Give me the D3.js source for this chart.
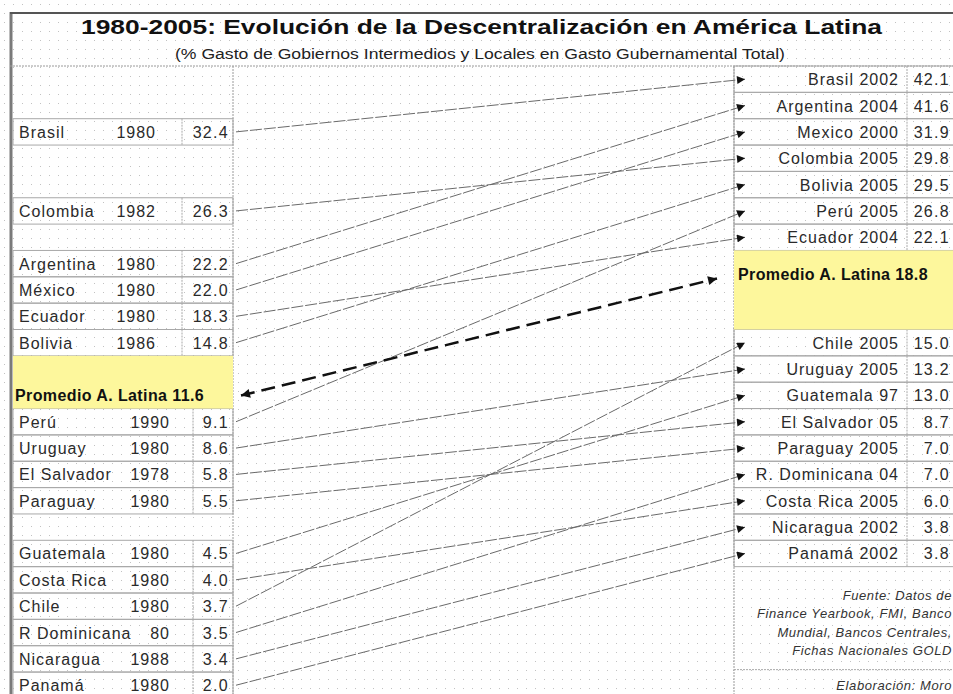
<!DOCTYPE html>
<html>
<head>
<meta charset="utf-8">
<script src="https://cdn.jsdelivr.net/npm/d3@7"></script>
<style>
  body { margin: 0; background: #fff; }
  svg { display: block; font-family: "Liberation Sans", Arial, sans-serif; }
</style>
</head>
<body>
<svg id="chart"></svg>
<script>
// --- data ---
const title = '1980-2005: Evolución de la Descentralización en América Latina';
const subtitle = '(% Gasto de Gobiernos Intermedios y Locales en Gasto Gubernamental Total)';
const avgLabel = 'Promedio A. Latina';
const avgStart = 11.6;
const avgEnd = 18.8;

const leftNames = ['Brasil', 'Colombia', 'Argentina', 'México', 'Ecuador', 'Bolivia', 'Perú', 'Uruguay',
  'El Salvador', 'Paraguay', 'Guatemala', 'Costa Rica', 'Chile', 'R Dominicana', 'Nicaragua', 'Panamá'];
const leftYears = ['1980', '1982', '1980', '1980', '1980', '1986', '1990', '1980',
  '1978', '1980', '1980', '1980', '1980', '80', '1988', '1980'];
const leftValues = [32.4, 26.3, 22.2, 22.0, 18.3, 14.8, 9.1, 8.6, 5.8, 5.5, 4.5, 4.0, 3.7, 3.5, 3.4, 2.0];

const rightNames = ['Brasil', 'Argentina', 'Mexico', 'Colombia', 'Bolivia', 'Perú', 'Ecuador', 'Chile',
  'Uruguay', 'Guatemala', 'El Salvador', 'Paraguay', 'R. Dominicana', 'Costa Rica', 'Nicaragua', 'Panamá'];
const rightYears = ['2002', '2004', '2000', '2005', '2005', '2005', '2004', '2005',
  '2005', '97', '05', '2005', '04', '2005', '2002', '2002'];
const rightValues = [42.1, 41.6, 31.9, 29.8, 29.5, 26.8, 22.1, 15.0, 13.2, 13.0, 8.7, 7.0, 7.0, 6.0, 3.8, 3.8];

// spreadsheet rows, top to bottom ('' = empty row, 'AVG' = average block)
const leftRows = ['', '', 'Brasil', '', '', 'Colombia', '', 'Argentina', 'México', 'Ecuador', 'Bolivia',
  'AVG', 'AVG', 'Perú', 'Uruguay', 'El Salvador', 'Paraguay', '', 'Guatemala', 'Costa Rica', 'Chile',
  'R Dominicana', 'Nicaragua', 'Panamá'];
const rightRows = ['Brasil', 'Argentina', 'Mexico', 'Colombia', 'Bolivia', 'Perú', 'Ecuador',
  'AVG', 'AVG', 'AVG', 'Chile', 'Uruguay', 'Guatemala', 'El Salvador', 'Paraguay', 'R. Dominicana',
  'Costa Rica', 'Nicaragua', 'Panamá'];

const sourceLines = ['Fuente: Datos de', 'Finance Yearbook, FMI, Banco', 'Mundial, Bancos Centrales,',
  'Fichas Nacionales GOLD'];
const creditLine = 'Elaboración: Moro';

// --- layout ---
const W = 953, H = 694;
const ROW_H = 26.35;
const TOP = 66;
const fmt = d3.format('.1f');
const key = (s) => s.replace(/\./g, '').normalize('NFD').replace(/[\u0300-\u036f]/g, '');

const svg = d3.select('#chart').attr('width', W).attr('height', H);
const defs = svg.append('defs');

defs.append('pattern')
  .attr('id', 'dots')
  .attr('width', 9).attr('height', 9)
  .attr('patternUnits', 'userSpaceOnUse')
  .append('rect')
  .attr('x', 4).attr('y', 4).attr('width', 1).attr('height', 1)
  .attr('fill', '#c2c2c2');

defs.append('marker')
  .attr('id', 'arrow')
  .attr('viewBox', '0 0 10 10')
  .attr('refX', 10).attr('refY', 5)
  .attr('markerUnits', 'userSpaceOnUse')
  .attr('markerWidth', 10).attr('markerHeight', 8)
  .attr('orient', 'auto')
  .append('path').attr('d', 'M0,0L10,5L0,10Z').attr('fill', '#111');

defs.append('marker')
  .attr('id', 'arrowBig')
  .attr('viewBox', '0 0 10 10')
  .attr('refX', 10).attr('refY', 5)
  .attr('markerUnits', 'userSpaceOnUse')
  .attr('markerWidth', 12).attr('markerHeight', 9)
  .attr('orient', 'auto-start-reverse')
  .append('path').attr('d', 'M0,0L10,5L0,10Z').attr('fill', '#111');

// background grid of dots (sheet gridlines)
svg.append('rect').attr('width', W).attr('height', H).attr('fill', '#fff');
svg.append('rect').attr('width', W).attr('height', H).attr('fill', 'url(#dots)');

const yLeft = d3.scaleBand()
  .domain(d3.range(leftRows.length))
  .range([TOP, TOP + leftRows.length * ROW_H]);
const yRight = d3.scaleBand()
  .domain(d3.range(rightRows.length))
  .range([TOP, TOP + rightRows.length * ROW_H]);

const L = { x0: 13, sepTop: 182, sepBottom: 193, x1: 233, name: 19, value: 229 };
const R = { x0: 734, sep: 907, x1: 953, label: 899, value: 950 };

// frame
svg.append('line').attr('x1', 11).attr('x2', 11).attr('y1', 12).attr('y2', H)
  .attr('stroke', '#7a7a7a').attr('stroke-width', 3);
svg.append('line').attr('x1', 10).attr('x2', W).attr('y1', 13).attr('y2', 13)
  .attr('stroke', '#555').attr('stroke-width', 2);
svg.append('line').attr('x1', 10).attr('x2', W).attr('y1', TOP).attr('y2', TOP)
  .attr('stroke', '#9a9a9a').attr('stroke-dasharray', '2,1');
svg.append('line').attr('x1', L.x1).attr('x2', L.x1).attr('y1', TOP).attr('y2', H)
  .attr('stroke', '#9a9a9a').attr('stroke-dasharray', '2,1');
svg.append('line').attr('x1', R.x0).attr('x2', R.x0).attr('y1', TOP).attr('y2', H)
  .attr('stroke', '#9a9a9a').attr('stroke-dasharray', '2,1');

// title
svg.append('text')
  .attr('x', 81).attr('y', 34)
  .attr('textLength', 801).attr('lengthAdjust', 'spacingAndGlyphs')
  .attr('font-size', 20).attr('font-weight', 'bold').attr('fill', '#111')
  .text(title);
svg.append('text')
  .attr('x', 175).attr('y', 59)
  .attr('textLength', 610).attr('lengthAdjust', 'spacingAndGlyphs')
  .attr('font-size', 14).attr('fill', '#222')
  .text(subtitle);

// ---- left table ----
const leftData = leftNames.map((name, i) => ({
  name, year: leftYears[i], value: leftValues[i], row: leftRows.indexOf(name),
}));
const leftAvgRows = leftRows.map((r, i) => r === 'AVG' ? i : -1).filter((i) => i >= 0);
const leftAvgFirst = d3.min(leftAvgRows), leftAvgLast = d3.max(leftAvgRows);

const gLeft = svg.append('g');
const leftCells = gLeft.selectAll('g.cell').data(leftData).enter().append('g').attr('class', 'cell');
leftCells.append('rect')
  .attr('x', L.x0).attr('width', L.x1 - L.x0)
  .attr('y', (d) => yLeft(d.row)).attr('height', yLeft.bandwidth())
  .attr('fill', 'none').attr('stroke', '#a8a8a8');
leftCells.append('line')
  .attr('x1', (d) => d.row < leftAvgFirst ? L.sepTop : L.sepBottom)
  .attr('x2', (d) => d.row < leftAvgFirst ? L.sepTop : L.sepBottom)
  .attr('y1', (d) => yLeft(d.row)).attr('y2', (d) => yLeft(d.row) + yLeft.bandwidth())
  .attr('stroke', '#a8a8a8').attr('stroke-dasharray', '2,1');
const baseL = (d) => yLeft(d.row) + yLeft.bandwidth() / 2 + 6;
leftCells.append('text')
  .attr('x', L.name).attr('y', baseL)
  .attr('font-size', 16).attr('letter-spacing', 1).attr('fill', '#2a2a2a')
  .text((d) => d.name);
leftCells.append('text')
  .attr('x', (d) => d.row < leftAvgFirst ? L.sepTop - 26 : L.sepBottom - 23).attr('y', baseL)
  .attr('text-anchor', 'end')
  .attr('font-size', 16).attr('letter-spacing', 1).attr('fill', '#2a2a2a')
  .text((d) => d.year);
leftCells.append('text')
  .attr('x', L.value).attr('y', baseL)
  .attr('text-anchor', 'end')
  .attr('font-size', 16).attr('letter-spacing', 1.3).attr('fill', '#2a2a2a')
  .text((d) => fmt(d.value));

// left average block
const leftAvgTop = yLeft(leftAvgFirst);
const leftAvgBottom = yLeft(leftAvgLast) + yLeft.bandwidth();
gLeft.append('rect')
  .attr('x', L.x0).attr('width', L.x1 - L.x0)
  .attr('y', leftAvgTop).attr('height', leftAvgBottom - leftAvgTop)
  .attr('fill', '#fdf79c');
const leftAvgY = leftAvgBottom - 14;
gLeft.append('text')
  .attr('x', 15).attr('y', leftAvgY + 6)
  .attr('font-size', 16).attr('font-weight', 'bold').attr('letter-spacing', 0.4).attr('fill', '#111')
  .text(avgLabel + ' ' + fmt(avgStart));

// ---- right table ----
const rightData = rightNames.map((name, i) => ({
  name, year: rightYears[i], value: rightValues[i], row: rightRows.indexOf(name),
}));
const rightAvgRows = rightRows.map((r, i) => r === 'AVG' ? i : -1).filter((i) => i >= 0);
const rightAvgFirst = d3.min(rightAvgRows), rightAvgLast = d3.max(rightAvgRows);

const gRight = svg.append('g');
const rightCells = gRight.selectAll('g.cell').data(rightData).enter().append('g').attr('class', 'cell');
rightCells.append('rect')
  .attr('x', R.x0).attr('width', R.x1 - R.x0 + 2)
  .attr('y', (d) => yRight(d.row)).attr('height', yRight.bandwidth())
  .attr('fill', 'none').attr('stroke', '#a8a8a8');
rightCells.append('line')
  .attr('x1', R.sep).attr('x2', R.sep)
  .attr('y1', (d) => yRight(d.row)).attr('y2', (d) => yRight(d.row) + yRight.bandwidth())
  .attr('stroke', '#a8a8a8').attr('stroke-dasharray', '2,1');
const baseR = (d) => yRight(d.row) + yRight.bandwidth() / 2 + 6;
rightCells.append('text')
  .attr('x', R.label).attr('y', baseR)
  .attr('text-anchor', 'end')
  .attr('font-size', 16).attr('letter-spacing', 1).attr('fill', '#2a2a2a')
  .text((d) => d.name + ' ' + d.year);
rightCells.append('text')
  .attr('x', R.value).attr('y', baseR)
  .attr('text-anchor', 'end')
  .attr('font-size', 16).attr('letter-spacing', 1.3).attr('fill', '#2a2a2a')
  .text((d) => fmt(d.value));

// right average block
const rightAvgTop = yRight(rightAvgFirst);
const rightAvgBottom = yRight(rightAvgLast) + yRight.bandwidth();
gRight.append('rect')
  .attr('x', R.x0).attr('width', R.x1 - R.x0)
  .attr('y', rightAvgTop).attr('height', rightAvgBottom - rightAvgTop)
  .attr('fill', '#fdf79c');
const rightAvgY = rightAvgTop + 24;
gRight.append('text')
  .attr('x', 738).attr('y', rightAvgY + 6)
  .attr('font-size', 16).attr('font-weight', 'bold').attr('letter-spacing', 0.4).attr('fill', '#111')
  .text(avgLabel + ' ' + fmt(avgEnd));

// footer (source)
const footTop = yRight(rightRows.length - 1) + yRight.bandwidth();
gRight.selectAll('text.src').data(sourceLines).enter().append('text')
  .attr('class', 'src')
  .attr('x', 952).attr('y', (d, i) => footTop + 33 + i * 18.5)
  .attr('text-anchor', 'end')
  .attr('font-size', 13).attr('font-style', 'italic').attr('letter-spacing', 0.6).attr('fill', '#333')
  .text((d) => d);
gRight.append('line')
  .attr('x1', R.x0).attr('x2', W).attr('y1', footTop + 103).attr('y2', footTop + 103)
  .attr('stroke', '#a8a8a8').attr('stroke-dasharray', '2,1');
gRight.append('text')
  .attr('x', 952).attr('y', footTop + 123)
  .attr('text-anchor', 'end')
  .attr('font-size', 13).attr('font-style', 'italic').attr('letter-spacing', 0.6).attr('fill', '#333')
  .text(creditLine);

// ---- connecting lines ----
const rightByKey = new Map(rightData.map((d) => [key(d.name), d]));
const links = leftData.map((d) => ({ from: d, to: rightByKey.get(key(d.name)) }));

const xLink = d3.scaleLinear().domain([0, 1]).range([L.x1 + 3, R.x0 + 11]);

svg.append('g').selectAll('line').data(links).enter().append('line')
  .attr('x1', xLink(0)).attr('x2', xLink(1))
  .attr('y1', (d) => yLeft(d.from.row) + yLeft.bandwidth() / 2)
  .attr('y2', (d) => yRight(d.to.row) + yRight.bandwidth() / 2)
  .attr('stroke', '#6a6a6a').attr('stroke-width', 1)
  .attr('stroke-dasharray', '12,2')
  .attr('marker-end', 'url(#arrow)');

// average arrow (dashed, both ends)
svg.append('line')
  .attr('x1', L.x1 + 8).attr('y1', leftAvgY + 1)
  .attr('x2', R.x0 - 17).attr('y2', rightAvgY + 4)
  .attr('stroke', '#111').attr('stroke-width', 2.5)
  .attr('stroke-dasharray', '14,7')
  .attr('marker-start', 'url(#arrowBig)')
  .attr('marker-end', 'url(#arrowBig)');
</script>
</body>
</html>
